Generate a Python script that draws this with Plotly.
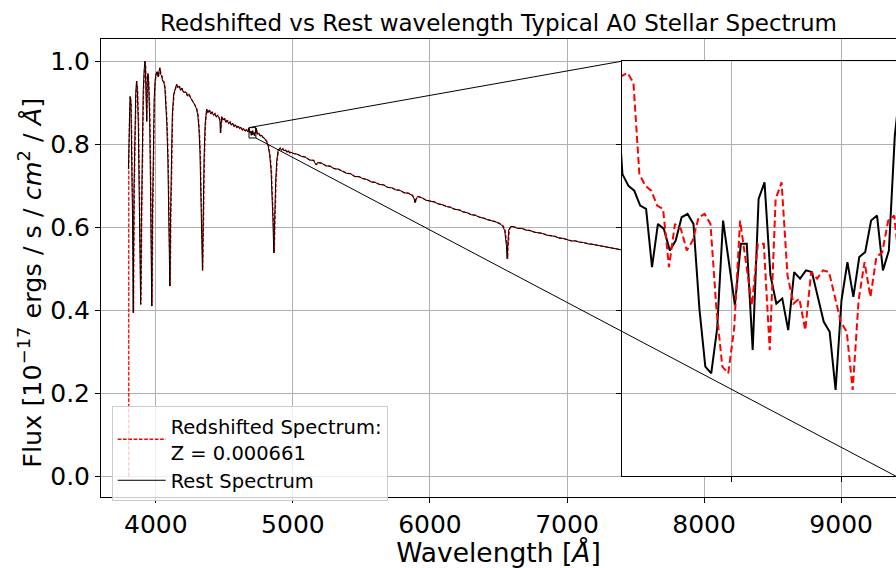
import plotly.graph_objects as go

# ---------------- data ----------------
Z = 0.000661
title_text = "Redshifted vs Rest wavelength Typical A0 Stellar Spectrum"
y_title_text = "Flux [10<sup>−17</sup> ergs / s / <i>cm</i><sup>2</sup> / <i>Å</i>]"
x_title_text = "Wavelength [<i>Å</i>]"

# rest-frame spectrum, blue part (Angstrom, normalised flux)
blue_wl = [3800, 3806, 3812, 3818, 3824, 3830, 3833, 3835, 3837, 3841, 3847, 3853, 3859,
           3865, 3872, 3879, 3884, 3887, 3889, 3891, 3894, 3900, 3908, 3915, 3920, 3924,
           3929, 3933, 3937, 3942, 3948, 3955, 3961, 3966, 3968.5, 3970, 3972, 3975, 3981,
           3988, 3995, 4002, 4010, 4017, 4023, 4029, 4035, 4042, 4050, 4058, 4066, 4073,
           4080, 4088, 4094, 4098, 4100.5, 4102, 4104, 4107, 4112, 4120, 4130, 4140, 4151,
           4160, 4170, 4180, 4190, 4200, 4210, 4220, 4230, 4240, 4248, 4258, 4268, 4278,
           4288, 4297, 4306, 4314, 4322, 4330, 4335, 4338, 4340, 4342, 4346, 4352, 4360,
           4370, 4380, 4390, 4400, 4410, 4420, 4430, 4440, 4450, 4460, 4468, 4471, 4474,
           4480, 4490, 4500, 4510, 4520, 4530, 4540, 4550, 4560, 4570, 4580, 4590, 4600,
           4610, 4620, 4630, 4640, 4650, 4660, 4670]
blue_flux = [0.74, 0.87, 0.915, 0.90, 0.80, 0.62, 0.48, 0.394, 0.50, 0.70, 0.85, 0.92, 0.952,
             0.93, 0.85, 0.70, 0.55, 0.46, 0.414, 0.47, 0.60, 0.80, 0.93, 0.98, 1.0, 0.985,
             0.93, 0.855, 0.95, 0.97, 0.94, 0.86, 0.70, 0.52, 0.44, 0.41, 0.47, 0.62, 0.80,
             0.91, 0.955, 0.97, 0.975, 0.962, 0.975, 0.984, 0.968, 0.965, 0.952, 0.95, 0.935, 0.90,
             0.85, 0.76, 0.64, 0.54, 0.48, 0.458, 0.51, 0.62, 0.76, 0.87, 0.92, 0.935, 0.944,
             0.936, 0.94, 0.93, 0.935, 0.926, 0.925, 0.926, 0.916, 0.92, 0.914, 0.91, 0.903, 0.898,
             0.889, 0.885, 0.87, 0.84, 0.78, 0.68, 0.58, 0.52, 0.496, 0.54, 0.65, 0.77, 0.85,
             0.884, 0.876, 0.882, 0.873, 0.878, 0.870, 0.874, 0.866, 0.870, 0.864, 0.855, 0.827, 0.855,
             0.866, 0.858, 0.862, 0.853, 0.858, 0.850, 0.854, 0.846, 0.851, 0.843, 0.847, 0.840, 0.844,
             0.838, 0.841, 0.834, 0.838, 0.832, 0.835, 0.830]

# high-resolution stretch shown in the zoomed inset
zoom_wl = [4675.78, 4676.86, 4677.94, 4679.02, 4680.10, 4681.18, 4682.26, 4683.34, 4684.42,
           4685.50, 4686.58, 4687.66, 4688.74, 4689.82, 4690.90, 4691.98, 4693.06, 4694.14,
           4695.22, 4696.30, 4697.38, 4698.46, 4699.54, 4700.62, 4701.70, 4702.78, 4703.86,
           4704.94, 4706.02, 4707.10, 4708.18, 4709.26, 4710.34, 4711.42, 4712.50, 4713.58,
           4714.66, 4715.74, 4716.82, 4717.90, 4718.98, 4720.06, 4721.14, 4722.22, 4723.30,
           4724.38, 4725.46, 4726.54, 4727.62, 4728.70, 4729.78, 4730.86]
zoom_flux = [0.8385, 0.8391, 0.8393, 0.8387, 0.8332, 0.8325, 0.8322, 0.8313, 0.8311, 0.8276,
             0.8302, 0.8299, 0.8286, 0.8292, 0.8306, 0.8308, 0.8302, 0.8251, 0.8216, 0.8212,
             0.8239, 0.8304, 0.8278, 0.8253, 0.8290, 0.8290, 0.8226, 0.8317, 0.8327, 0.8271,
             0.8254, 0.8257, 0.8238, 0.8273, 0.8269, 0.8274, 0.8273, 0.8257, 0.8243, 0.8237,
             0.8202, 0.8256, 0.8279, 0.8258, 0.8282, 0.8285, 0.8304, 0.8307, 0.8274, 0.8286,
             0.8355, 0.8388]

# rest-frame spectrum, red part
red_wl = [4740, 4750, 4760, 4770, 4780, 4790, 4800, 4810, 4820, 4830, 4840, 4848, 4854, 4858,
          4861, 4864, 4868, 4874, 4882, 4892, 4905, 4915, 4925, 4935, 4945, 4955, 4965, 4975,
          4985, 5000, 5030, 5060, 5090, 5120, 5150, 5170, 5180, 5210, 5240, 5270, 5300, 5330,
          5360, 5390, 5420, 5450, 5480, 5510, 5540, 5570, 5600, 5630, 5660, 5690, 5720, 5750,
          5780, 5810, 5840, 5870, 5885, 5890, 5896, 5910, 5940, 5970, 6000, 6030, 6060, 6090,
          6120, 6150, 6180, 6210, 6240, 6270, 6300, 6330, 6360, 6390, 6420, 6450, 6480, 6510,
          6530, 6545, 6553, 6558, 6561, 6563, 6565, 6569, 6575, 6590, 6610, 6640, 6670, 6700,
          6730, 6760, 6790, 6820, 6850, 6880, 6910, 6940, 6970, 7000, 7030, 7060, 7090, 7120,
          7150, 7180, 7210, 7240, 7270, 7300, 7330, 7360, 7390, 7420]
red_flux = [0.824, 0.826, 0.820, 0.822, 0.816, 0.815, 0.810, 0.805, 0.795, 0.775, 0.74, 0.69,
            0.62, 0.57, 0.538, 0.58, 0.64, 0.71, 0.76, 0.785, 0.791, 0.786, 0.789, 0.784, 0.786,
            0.781, 0.784, 0.779, 0.781, 0.778, 0.776, 0.771, 0.769, 0.762, 0.761, 0.750, 0.756,
            0.754, 0.748, 0.747, 0.741, 0.740, 0.735, 0.730, 0.729, 0.722, 0.722, 0.717, 0.715,
            0.709, 0.708, 0.703, 0.702, 0.696, 0.695, 0.690, 0.689, 0.683, 0.682, 0.677, 0.668,
            0.659, 0.667, 0.674, 0.671, 0.665, 0.663, 0.661, 0.656, 0.654, 0.650, 0.648, 0.643,
            0.642, 0.637, 0.635, 0.630, 0.629, 0.624, 0.622, 0.618, 0.615, 0.613, 0.608, 0.603,
            0.592, 0.575, 0.555, 0.535, 0.524, 0.545, 0.575, 0.594, 0.602, 0.601, 0.597, 0.597,
            0.593, 0.592, 0.588, 0.587, 0.585, 0.581, 0.580, 0.578, 0.574, 0.573, 0.570, 0.567,
            0.567, 0.564, 0.563, 0.560, 0.559, 0.557, 0.556, 0.553, 0.551, 0.550, 0.547, 0.546,
            0.544]

redshift_edge_flux = 0.0   # first sample of the redshifted spectrum

x_ticks = [4000, 5000, 6000, 7000, 8000, 9000]
y_ticks = [0.0, 0.2, 0.4, 0.6, 0.8, 1.0]

# axes limits
main_xlim = [3600, 9400]
main_ylim = [-0.05, 1.0535]
zoom_xlim = [4680, 4730]
zoom_ylim = [0.815, 0.840]
zoom_xticks = [4700, 4720]
zoom_yticks = [0.820, 0.825, 0.830, 0.835]
# where the inset sits, in main-axes data coordinates
inset_xspan = [7400, 9400]
inset_yspan = [0.0, 1.0]

# ---------------- build ----------------
rest_wl = blue_wl + zoom_wl + red_wl
rest_flux = blue_flux + zoom_flux + red_flux
shift_wl = [w * (1 + Z) for w in rest_wl]
shift_wl = [shift_wl[0]] + shift_wl
shift_flux = [redshift_edge_flux] + rest_flux

FONT = "DejaVu Sans"
RED = "#ff0000"
GRID = "#b0b0b0"

fig = go.Figure()
fig.add_trace(go.Scatter(x=shift_wl, y=shift_flux, mode="lines",
                         name="Redshifted Spectrum:<br>Z = 0.000661",
                         line=dict(color=RED, width=1.3, dash="3.7px,1.6px"),
                         xaxis="x", yaxis="y"))
fig.add_trace(go.Scatter(x=rest_wl, y=rest_flux, mode="lines",
                         name="Rest Spectrum",
                         line=dict(color="black", width=1.0),
                         xaxis="x", yaxis="y"))
# inset
fig.add_trace(go.Scatter(x=rest_wl, y=rest_flux, mode="lines", showlegend=False,
                         line=dict(color="black", width=2), xaxis="x2", yaxis="y2"))
fig.add_trace(go.Scatter(x=shift_wl, y=shift_flux, mode="lines", showlegend=False,
                         line=dict(color=RED, width=2, dash="7px,3.5px"),
                         xaxis="x2", yaxis="y2"))


def xdom(v):
    return (v - main_xlim[0]) / (main_xlim[1] - main_xlim[0])


def ydom(v):
    return (v - main_ylim[0]) / (main_ylim[1] - main_ylim[0])


axis_common = dict(showline=True, linecolor="black", linewidth=1, mirror=True,
                   ticks="outside", ticklen=5, tickwidth=1, tickcolor="black",
                   showgrid=True, gridcolor=GRID, gridwidth=0.8, zeroline=False)

fig.update_layout(
    width=896, height=568,
    margin=dict(l=101, r=0, t=39, b=71),
    paper_bgcolor="white", plot_bgcolor="white",
    font=dict(family=FONT, color="black"),
    title=dict(text=title_text, x=(101 + 896) / 2 / 896, xanchor="center",
               y=1 - 23 / 568, yanchor="middle", font=dict(size=23, family=FONT)),
    xaxis=dict(domain=[0, 1], range=main_xlim, tickvals=x_ticks,
               tickfont=dict(size=25), anchor="y",
               title=dict(text=x_title_text, font=dict(size=26.5), standoff=6),
               **axis_common),
    yaxis=dict(domain=[0, 1], range=main_ylim, tickvals=y_ticks, tickformat=".1f",
               tickfont=dict(size=25), anchor="x",
               **axis_common),
    xaxis2=dict(domain=[xdom(inset_xspan[0]), xdom(inset_xspan[1])], range=zoom_xlim,
                tickvals=zoom_xticks, showticklabels=False, anchor="y2", **axis_common),
    yaxis2=dict(domain=[ydom(inset_yspan[0]), ydom(inset_yspan[1])], range=zoom_ylim,
                tickvals=zoom_yticks, showticklabels=False, anchor="x2", **axis_common),
    legend=dict(x=(111.7 - 101) / 795, y=(497.3 - 406.7) / 458, xanchor="left", yanchor="top",
                bgcolor="rgba(255,255,255,0.8)", bordercolor="#cccccc", borderwidth=1,
                font=dict(size=19.5, family=FONT), traceorder="normal", itemwidth=48,
                tracegroupgap=0),
    showlegend=True,
)

# y-axis title as a rotated annotation for precise placement
fig.add_annotation(text=y_title_text, xref="paper", yref="paper", x=0, y=(497.3 - 283) / 458,
                   xshift=-71, xanchor="center", yanchor="middle", textangle=-90,
                   showarrow=False, font=dict(size=25.5, family=FONT, color="black"))

# zoom box and connector lines (mark_inset style)
fig.add_shape(type="rect", xref="x", yref="y", x0=zoom_xlim[0], x1=zoom_xlim[1],
              y0=zoom_ylim[0], y1=zoom_ylim[1], line=dict(color="black", width=1), layer="above")
fig.add_shape(type="line", xref="x", yref="y", x0=zoom_xlim[0], y0=zoom_ylim[1],
              x1=inset_xspan[0], y1=inset_yspan[1], line=dict(color="black", width=1), layer="above")
fig.add_shape(type="line", xref="x", yref="y", x0=zoom_xlim[1], y0=zoom_ylim[0],
              x1=inset_xspan[1], y1=inset_yspan[0], line=dict(color="black", width=1), layer="above")

fig.write_html("out.html")
